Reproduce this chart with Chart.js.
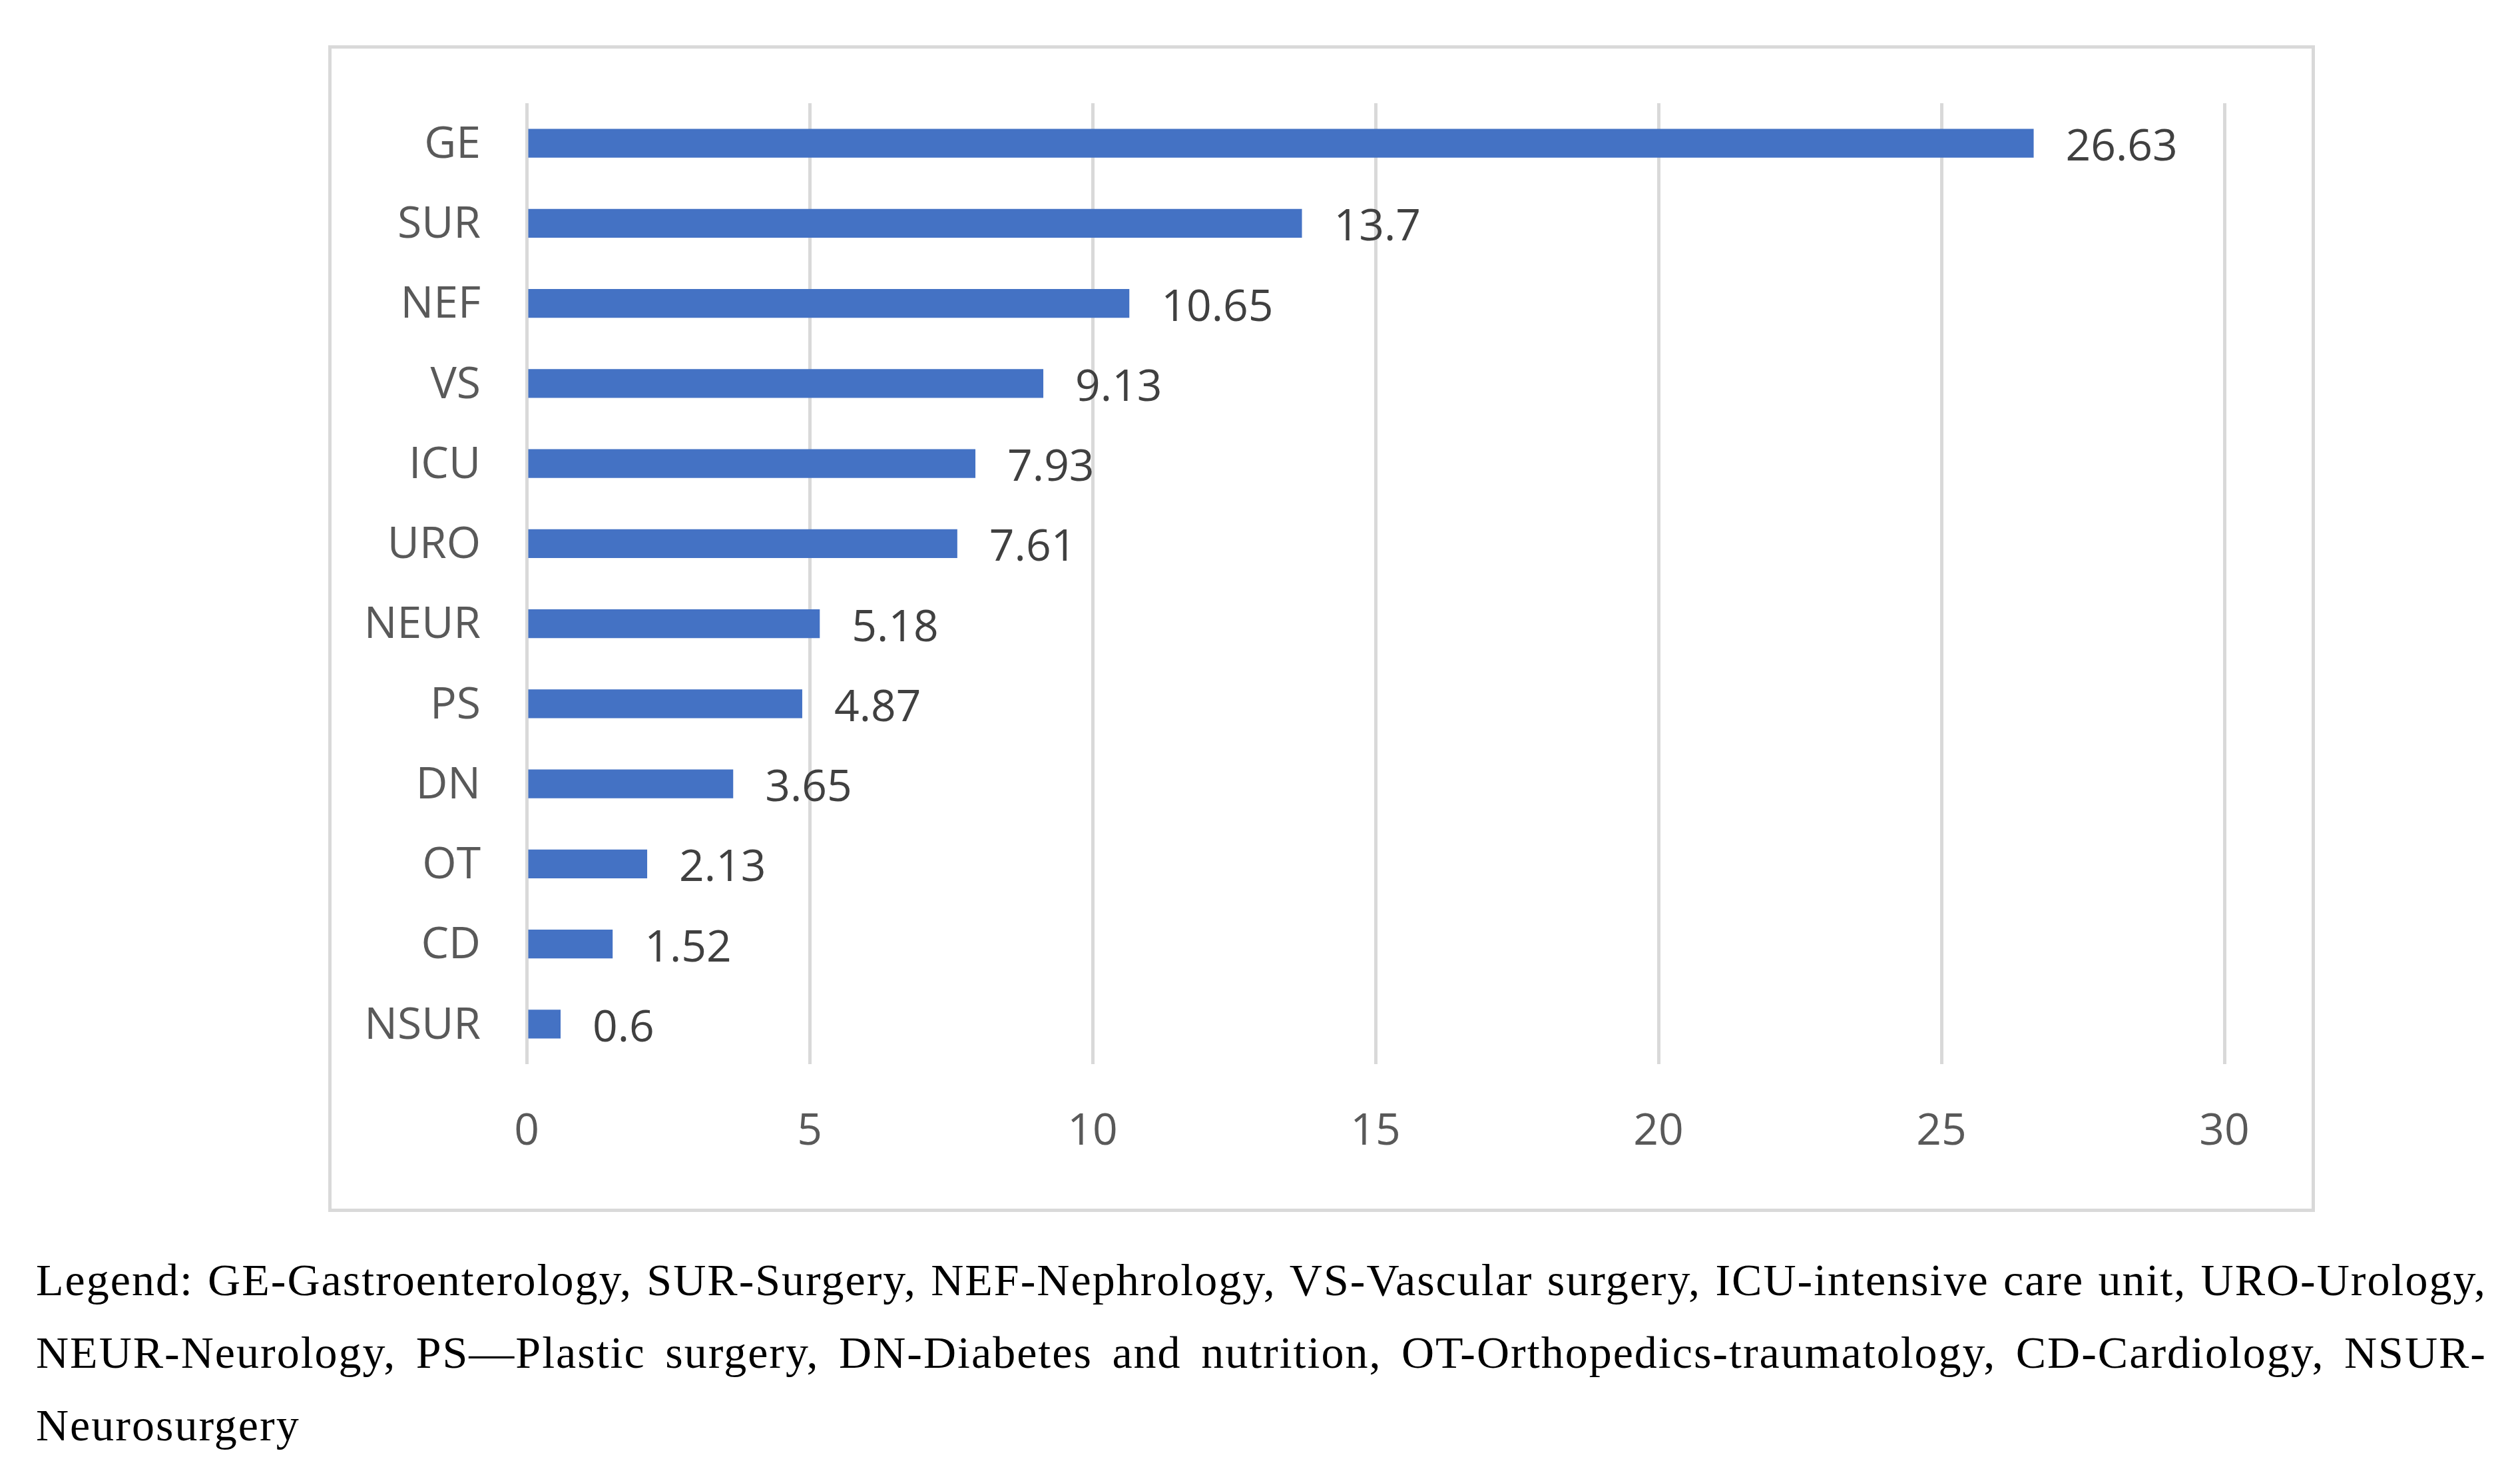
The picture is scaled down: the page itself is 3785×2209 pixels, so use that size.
<!DOCTYPE html>
<html>
<head>
<meta charset="utf-8">
<script src="https://cdn.jsdelivr.net/npm/chart.js@4.4.0/dist/chart.umd.min.js"></script>
<style>
  html, body { margin: 0; padding: 0; background: #fff; }
  body { width: 3785px; height: 2209px; position: relative; overflow: hidden; }
  #box {
    position: absolute; left: 493px; top: 68px;
    width: 2984px; height: 1752px;
    box-sizing: border-box; border: 5px solid #d9d9d9; background: #fff;
  }
  #box canvas { display: block; }
  .cap {
    position: absolute; left: 54px; width: 3681px;
    font-family: "Liberation Serif", "DejaVu Serif", serif;
    font-size: 68px; line-height: 109px; color: #000;
    letter-spacing: 2px; white-space: nowrap;
  }
  .just { text-align: justify; text-align-last: justify; }
</style>
</head>
<body>
<div id="box"><canvas id="barChart" width="2974" height="1742"></canvas></div>
<div class="cap just" style="top:1868px">Legend: GE-Gastroenterology, SUR-Surgery, NEF-Nephrology, VS-Vascular surgery, ICU-intensive care unit, URO-Urology,</div>
<div class="cap just" style="top:1977px">NEUR-Neurology, PS—Plastic surgery, DN-Diabetes and nutrition, OT-Orthopedics-traumatology, CD-Cardiology, NSUR-</div>
<div class="cap" style="top:2086px">Neurosurgery</div>
<script>
let wards = ['GE','SUR','NEF','VS','ICU','URO','NEUR','PS','DN','OT','CD','NSUR'],
  percents = [26.63, 13.7, 10.65, 9.13, 7.93, 7.61, 5.18, 4.87, 3.65, 2.13, 1.52, 0.6],
  xTicks = [0, 5, 10, 15, 20, 25, 30];

let labelFont = { family: '"Open Sans", "Noto Sans", sans-serif', size: 66 };

// value labels right of each bar
let valueLabels = {
  id: 'valueLabels',
  afterDatasetsDraw(chart) {
    let ctx = chart.ctx;
    let meta = chart.getDatasetMeta(0);
    ctx.save();
    ctx.font = labelFont.size + 'px ' + labelFont.family;
    ctx.fillStyle = '#404040';
    ctx.textAlign = 'left';
    ctx.textBaseline = 'alphabetic';
    meta.data.forEach(function (bar, i) {
      ctx.fillText(String(percents[i]), bar.x + 48, bar.y + 26);
    });
    ctx.restore();
  }
};

let ctx = document.getElementById('barChart').getContext('2d');
let myChart = new Chart(ctx, {
  type: 'bar',
  data: {
    labels: wards,
    datasets: [{
      data: percents,
      backgroundColor: '#4472c4',
      borderWidth: 0,
      categoryPercentage: 1,
      barPercentage: 0.358
    }]
  },
  options: {
    indexAxis: 'y',
    responsive: false,
    animation: false,
    devicePixelRatio: 1,
    layout: { padding: { left: 0, right: 131, top: 82, bottom: 0 } },
    plugins: { legend: { display: false }, tooltip: { enabled: false } },
    scales: {
      x: {
        min: 0, max: 30,
        afterBuildTicks(scale) { scale.ticks = xTicks.map(v => ({ value: v })); },
        afterFit(scale) {
          scale.height = 217;
          scale.paddingLeft = 0;
          scale.paddingRight = 0;
        },
        grid: { color: '#d9d9d9', lineWidth: 5, drawTicks: false },
        border: { display: false },
        ticks: { color: '#595959', font: labelFont, padding: 63 }
      },
      y: {
        afterFit(scale) {
          scale.width = 293;
          scale.paddingTop = 0;
          scale.paddingBottom = 0;
        },
        grid: { display: false, drawTicks: false },
        border: { display: false },
        ticks: { color: '#595959', font: labelFont, padding: 69, labelOffset: 3 }
      }
    }
  },
  plugins: [valueLabels]
});
</script>
</body>
</html>
